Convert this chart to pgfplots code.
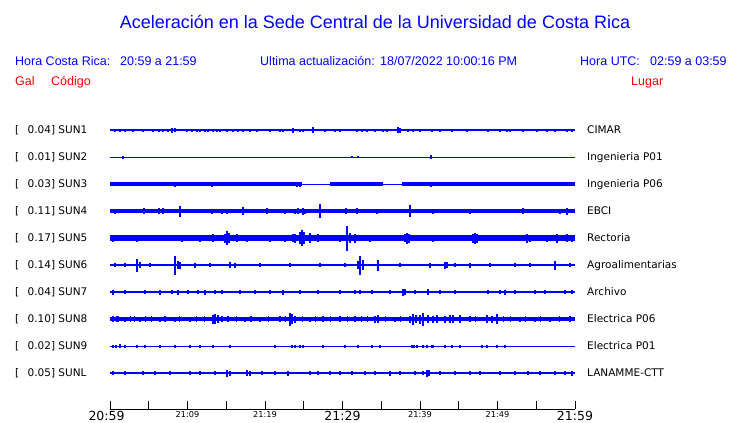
\documentclass[border=0pt]{standalone}
\usepackage{pgfplots}
\pgfplotsset{compat=1.18}
\usepackage{fontspec}
\newfontfamily\hel{Liberation Sans}
\newfontfamily\dv{DejaVu Sans}
\definecolor{pblue}{RGB}{0,0,255}
\definecolor{pred}{RGB}{255,0,0}
\pgfplotsset{
  trace/.style={only marks, mark=*, mark size=0pt, mark options={draw opacity=0, fill opacity=0},
    error bars/.cd, y dir=both, y explicit, error mark=none,
    error bar style={pblue, line width=1.2bp, draw opacity=1}},
  band/.style={pblue, line width=#1, mark=none, unbounded coords=jump},
}
\begin{document}
\begin{tikzpicture}
\path[use as bounding box] (0,0) rectangle (740bp,423bp);
\begin{axis}[at={(0,0)}, anchor=south west, scale only axis,
  width=740bp, height=423bp,
  xmin=-14.1935, xmax=81.2903, ymin=0, ymax=423, y dir=reverse,
  hide axis, clip=false]

% ---- base bands ----
\addplot[band=1.3bp] coordinates {(0,130) (60,130)};
\addplot[band=1bp] coordinates {(0,157) (60,157)};
\addplot[band=1bp] coordinates {(0,184) (60,184)};
\addplot[band=3.2bp] coordinates {(0,184) (24.77,184) (nan,nan) (28.39,184) (35.23,184) (nan,nan) (37.68,184) (60,184)};
\addplot[band=3.8bp] coordinates {(0,211) (60,211)};
\addplot[band=5.2bp] coordinates {(0,238) (60,238)};
\addplot[band=2.8bp] coordinates {(0,265) (60,265)};
\addplot[band=2.6bp] coordinates {(0,292) (60,292)};
\addplot[band=4.6bp] coordinates {(0,319) (60,319)};
\addplot[band=1bp] coordinates {(0,346) (60,346)};
\addplot[band=2.6bp] coordinates {(0,373) (60,373)};

% ---- SUN1 ----
\addplot[trace] table[x=t, y expr=130, y error=a, row sep=\\] {
t a \\ 0.65 1.5 \\ 1.29 1.5 \\ 1.94 1.5 \\ 2.97 1.5 \\ 4.26 1.5 \\ 5.55 1.5 \\ 6.32 1.5 \\ 6.84 1.5 \\
7.48 1.5 \\ 8.00 2.5 \\ 8.39 2 \\ 9.94 1.5 \\ 10.58 1.5 \\ 11.23 1.5 \\ 11.61 1.5 \\ 12.26 1.5 \\ 12.65 1.5 \\
13.29 1.5 \\ 13.81 1.5 \\ 14.19 1.5 \\ 15.10 1.5 \\ 15.87 1.5 \\ 16.52 1.5 \\ 17.16 1.5 \\ 18.06 1.5 \\
18.97 1.5 \\ 20.65 1.5 \\ 21.94 1.5 \\ 22.32 1.5 \\ 23.61 2.5 \\ 24.52 1.5 \\ 24.90 1.5 \\ 26.19 3 \\
27.74 1.5 \\ 29.03 1.5 \\ 29.68 1.5 \\ 31.87 1.5 \\ 32.52 1.5 \\ 33.16 1.5 \\ 34.19 1.5 \\ 35.23 1.5 \\
35.74 1.5 \\ 37.16 3 \\ 37.42 2.5 \\ 38.45 1.5 \\ 39.10 1.5 \\ 40.00 1.5 \\ 41.55 1.5 \\ 42.58 1.5 \\
44.13 1.5 \\ 46.06 1.5 \\ 48.77 1.5 \\ 50.32 1.5 \\ 51.23 1.5 \\ 51.61 1.5 \\ 53.29 1.5 \\ 55.10 1.5 \\
56.39 1.5 \\ 57.42 1.5 \\ 58.97 1.5 \\ 59.61 1.5 \\
};
% ---- SUN2 ----
\addplot[trace] table[x=t, y expr=157, y error=a, row sep=\\] {
t a \\ 1.68 1.5 \\ 31.23 1.2 \\ 32.00 1.2 \\ 41.42 2 \\
};
% ---- SUN3 ----
\addplot[trace] table[x=t, y expr=184, y error=a, row sep=\\] {
t a \\ 8.39 2.5 \\ 10.58 2 \\ 13.16 2.5 \\ 13.55 2 \\ 24.13 2.5 \\ 24.52 2.5 \\ 41.42 2.5 \\ 43.48 2 \\
46.45 2 \\ 48.39 2 \\ 48.77 2 \\ 49.68 2 \\ 52.90 2 \\ 58.06 2 \\ 59.61 2 \\
};
% ---- SUN4 ----
\addplot[trace] table[x=t, y expr=211, y error=a, row sep=\\] {
t a \\ 0.65 2.5 \\ 4.39 3 \\ 6.32 3 \\ 6.84 3 \\ 9.03 5.5 \\ 13.16 2.5 \\ 14.45 2.5 \\ 15.10 2.5 \\
16.13 2 \\ 17.16 4 \\ 20.26 3 \\ 22.58 2.5 \\ 23.87 2.5 \\ 24.26 3 \\ 24.90 3.5 \\ 25.16 2.5 \\
27.10 7 \\ 30.45 3 \\ 31.87 3 \\ 33.81 2 \\ 34.45 2.5 \\ 35.74 2 \\ 38.71 6 \\ 41.68 2.5 \\
44.13 2 \\ 46.45 2.5 \\ 53.29 3 \\ 55.10 2 \\ 58.06 2.5 \\ 58.97 3.5 \\
};
% ---- SUN5 ----
\addplot[trace] table[x=t, y expr=238, y error=a, row sep=\\] {
t a \\ 0.39 3.5 \\ 1.29 3 \\ 2.58 3 \\ 3.48 3.5 \\ 5.16 3 \\ 7.10 3 \\ 9.29 3.5 \\ 10.97 3 \\
11.61 3.5 \\ 12.52 3 \\ 13.29 4 \\ 14.19 3 \\ 14.84 4.5 \\ 15.10 7 \\ 15.35 5 \\ 16.39 4 \\
17.68 3.5 \\ 19.10 3 \\ 20.65 3.5 \\ 22.58 3.5 \\ 23.61 4 \\ 23.87 4.5 \\ 24.52 6 \\ 24.77 8 \\
25.03 6 \\ 25.81 5 \\ 26.84 4 \\ 28.39 3 \\ 29.68 3.5 \\ 30.58 12.5 \\ 30.97 5 \\ 31.61 4.5 \\
32.90 3 \\ 33.55 3.5 \\ 35.48 3 \\ 36.77 3 \\ 38.06 4 \\ 38.32 5.5 \\ 38.58 4.5 \\ 40.00 3 \\
41.68 3.5 \\ 43.23 3 \\ 44.26 3 \\ 46.45 3 \\ 46.84 4.5 \\ 47.10 5.5 \\ 47.35 4.5 \\ 49.03 3 \\
51.61 3 \\ 53.81 4.5 \\ 54.19 3.5 \\ 55.48 3 \\ 56.39 3.5 \\ 57.68 4.5 \\ 58.97 4 \\ 59.61 3.5 \\
0.9 3 \\ 1.9 3 \\ 3.0 3 \\ 4.2 3 \\ 6.0 3 \\ 7.8 3 \\ 8.5 3 \\ 10.2 3 \\ 12.0 3 \\ 13.8 3 \\
16.9 3 \\ 18.4 3 \\ 19.7 3 \\ 21.3 3 \\ 22.0 3 \\ 26.2 3 \\ 27.5 3 \\ 29.0 3 \\ 31.2 3 \\
32.3 3 \\ 34.2 3 \\ 35.0 3 \\ 36.1 3 \\ 37.4 3 \\ 39.3 3 \\ 40.7 3 \\ 41.2 3 \\ 42.4 3 \\
43.8 3 \\ 45.0 3 \\ 45.8 3 \\ 48.2 3 \\ 49.8 3 \\ 50.6 3 \\ 52.3 3 \\ 53.2 3 \\ 55.0 3 \\
56.0 3 \\ 57.1 3 \\ 58.4 3 \\ 59.2 3 \\
};
% ---- SUN6 ----
\addplot[trace] table[x=t, y expr=265, y error=a, row sep=\\] {
t a \\ 0.65 2 \\ 1.94 2 \\ 3.48 6.5 \\ 3.87 3 \\ 5.16 2 \\ 8.39 9.5 \\ 8.77 4 \\ 9.03 3.5 \\
10.97 2.5 \\ 12.90 2 \\ 15.48 3 \\ 16.13 2.5 \\ 19.35 2 \\ 23.23 2 \\ 27.10 2 \\ 30.32 2 \\
32.00 4 \\ 32.26 9.5 \\ 32.65 5 \\ 34.58 5.5 \\ 37.42 2 \\ 41.29 2.5 \\ 43.23 3.5 \\ 43.48 3 \\
44.52 2 \\ 46.45 2.5 \\ 49.03 2 \\ 52.26 2 \\ 54.19 2 \\ 57.42 4.5 \\ 59.35 2 \\
};
% ---- SUN7 ----
\addplot[trace] table[x=t, y expr=292, y error=a, row sep=\\] {
t a \\ 0.39 2.5 \\ 1.94 2 \\ 4.52 2 \\ 6.45 2.5 \\ 8.00 2 \\ 8.77 2.5 \\ 10.06 2 \\ 11.35 2 \\
12.26 2.5 \\ 13.55 2 \\ 14.45 2 \\ 16.77 2 \\ 18.71 2 \\ 20.65 2 \\ 22.32 2.5 \\ 24.52 2 \\
26.84 2 \\ 29.68 2 \\ 31.61 2 \\ 32.26 2 \\ 33.81 2 \\ 36.13 2 \\ 37.81 3.5 \\ 38.06 3 \\
39.35 2 \\ 41.03 3 \\ 42.58 2 \\ 44.52 2 \\ 48.77 2 \\ 50.32 2 \\ 50.97 2.5 \\ 52.26 2 \\
54.84 2 \\ 56.13 2 \\ 58.71 2 \\ 59.61 2 \\
};
% ---- SUN8 ----
\addplot[trace] table[x=t, y expr=319, y error=a, row sep=\\] {
t a \\ 0.39 3 \\ 1.03 3 \\ 1.94 2.5 \\ 3.87 2.5 \\ 6.45 2.5 \\ 8.39 2.5 \\ 10.32 2.5 \\ 13.29 4.5 \\
13.55 5 \\ 13.94 4 \\ 14.45 3 \\ 15.23 3 \\ 17.42 2.5 \\ 19.35 2.5 \\ 21.94 3 \\ 23.23 6.5 \\
23.48 5 \\ 23.87 3.5 \\ 25.81 2.5 \\ 27.48 3 \\ 29.68 3 \\ 31.61 3 \\ 34.19 3.5 \\ 34.58 4 \\
36.77 2.5 \\ 38.71 3.5 \\ 39.10 5.5 \\ 39.48 4 \\ 40.00 4.5 \\ 40.39 6.5 \\ 41.03 4 \\ 41.68 3.5 \\
42.19 4 \\ 43.23 3.5 \\ 43.87 4 \\ 44.26 4 \\ 45.16 4 \\ 46.45 3 \\ 48.65 4 \\ 49.29 3.5 \\
49.94 5 \\ 52.90 2.5 \\ 54.84 2.5 \\ 56.77 2.5 \\ 59.35 3 \\
0.8 2.8 \\ 2.6 2.8 \\ 3.2 2.8 \\ 4.6 2.8 \\ 5.4 2.8 \\ 7.1 2.8 \\ 9.0 2.8 \\ 11.2 2.8 \\
12.2 2.8 \\ 16.3 2.8 \\ 18.2 2.8 \\ 20.5 2.8 \\ 22.6 2.8 \\ 24.8 2.8 \\ 26.5 2.8 \\ 28.4 2.8 \\
30.6 2.8 \\ 32.5 2.8 \\ 33.2 2.8 \\ 35.5 2.8 \\ 37.5 2.8 \\ 47.2 2.8 \\ 50.8 2.8 \\ 51.7 2.8 \\
53.6 2.8 \\ 55.5 2.8 \\ 58.0 2.8 \\
};
% ---- SUN9 ----
\addplot[trace] table[x=t, y expr=346, y error=a, row sep=\\] {
t a \\ 0.39 1.5 \\ 0.77 1.5 \\ 1.29 2 \\ 1.94 1.5 \\ 3.48 1.5 \\ 4.52 1.5 \\ 6.45 1.5 \\ 8.39 1.5 \\
10.32 1.5 \\ 11.61 1.5 \\ 13.29 1.5 \\ 15.48 1.5 \\ 21.29 1.5 \\ 23.48 1.5 \\ 23.87 1.5 \\ 24.52 1.5 \\
24.90 1.5 \\ 27.48 1.5 \\ 30.32 1.5 \\ 32.00 1.5 \\ 33.81 1.5 \\ 34.84 1.5 \\ 38.97 1.5 \\ 39.23 1.5 \\
39.61 1.5 \\ 40.39 1.5 \\ 40.90 1.5 \\ 41.55 1.5 \\ 41.68 1.5 \\ 43.23 1.5 \\ 44.13 1.5 \\ 45.16 1.5 \\
48.00 1.5 \\ 48.65 1.5 \\ 49.94 1.5 \\ 50.97 1.5 \\
};
% ---- SUNL ----
\addplot[trace] table[x=t, y expr=373, y error=a, row sep=\\] {
t a \\ 0.39 2 \\ 1.94 2 \\ 4.26 2 \\ 5.81 2 \\ 7.74 2 \\ 10.32 2 \\ 11.61 2 \\ 13.55 2 \\
15.10 3.5 \\ 15.48 2.5 \\ 17.68 3 \\ 18.06 2.5 \\ 19.61 2 \\ 21.29 2 \\ 22.97 2.5 \\ 25.81 2 \\
26.84 2 \\ 28.39 2 \\ 29.68 2 \\ 31.23 2 \\ 32.90 2 \\ 34.19 2 \\ 36.13 2.5 \\ 37.42 2 \\
39.35 2 \\ 40.39 2 \\ 40.90 3.5 \\ 41.16 3 \\ 42.58 2 \\ 44.52 2 \\ 46.45 2 \\ 47.74 2 \\
50.32 2 \\ 52.26 2 \\ 53.94 2 \\ 55.48 2 \\ 57.42 2 \\ 58.71 2 \\ 59.61 2.5 \\
};

% ---- time axis ----
\addplot[black, line width=0.8bp, mark=none] coordinates {(0,409.3) (60,409.3)};
\pgfplotsinvokeforeach{0,5,...,60}{\draw[black, line width=0.8bp] (axis cs:#1,409.3) -- (axis cs:#1,400.7);}
\node[anchor=base, inner sep=0pt, font=\dv\fontsize{12.5bp}{14bp}\selectfont] at (axis cs:-0.45,420.7) {20:59};
\node[anchor=base, inner sep=0pt, font=\dv\fontsize{12.5bp}{14bp}\selectfont] at (axis cs:30,420.7) {21:29};
\node[anchor=base, inner sep=0pt, font=\dv\fontsize{12.5bp}{14bp}\selectfont] at (axis cs:60,420.7) {21:59};
\node[anchor=base, inner sep=0pt, font=\dv\fontsize{8.2bp}{10bp}\selectfont] at (axis cs:10,417.7) {21:09};
\node[anchor=base, inner sep=0pt, font=\dv\fontsize{8.2bp}{10bp}\selectfont] at (axis cs:20,417.7) {21:19};
\node[anchor=base, inner sep=0pt, font=\dv\fontsize{8.2bp}{10bp}\selectfont] at (axis cs:40,417.7) {21:39};
\node[anchor=base, inner sep=0pt, font=\dv\fontsize{8.2bp}{10bp}\selectfont] at (axis cs:50,417.7) {21:49};
\end{axis}

\begin{scope}[x=1bp, y=-1bp, yshift=423bp, every node/.style={inner sep=0pt}]
\node[anchor=base, text=pblue, font=\hel\fontsize{18bp}{20bp}\selectfont] at (375,29) {Aceleración en la Sede Central de la Universidad de Costa Rica};
\begin{scope}[every node/.append style={anchor=base west, text=pblue, font=\hel\fontsize{12.5bp}{14bp}\selectfont}]
\node at (15,66) {Hora Costa Rica:};
\node at (120,66) {20:59 a 21:59};
\node at (260,66) {Ultima actualización:};
\node at (380,66) {18/07/2022 10:00:16 PM};
\node at (580,66) {Hora UTC:};
\node at (650,66) {02:59 a 03:59};
\end{scope}
\begin{scope}[every node/.append style={anchor=base west, text=pred, font=\hel\fontsize{12.5bp}{14bp}\selectfont}]
\node at (15,86) {Gal};
\node at (51,86) {Código};
\node at (631,86) {Lugar};
\end{scope}
\begin{scope}[every node/.append style={anchor=base west, text=black, font=\dv\fontsize{10.5bp}{12bp}\selectfont}]
\foreach \y/\v/\c/\n in {130/0.04/SUN1/CIMAR, 157/0.01/SUN2/Ingenieria P01, 184/0.03/SUN3/Ingenieria P06,
  211/0.11/SUN4/EBCI, 238/0.17/SUN5/Rectoria, 265/0.14/SUN6/Agroalimentarias, 292/0.04/SUN7/Archivo,
  319/0.10/SUN8/Electrica P06, 346/0.02/SUN9/Electrica P01, 373/0.05/SUNL/LANAMME-CTT}{
  \node at (15,\y+4) {[};
  \node at (27.5,\y+4) {\v] \c};
  \node at (587,\y+4) {\n};
}
\end{scope}
\end{scope}
\end{tikzpicture}
\end{document}
